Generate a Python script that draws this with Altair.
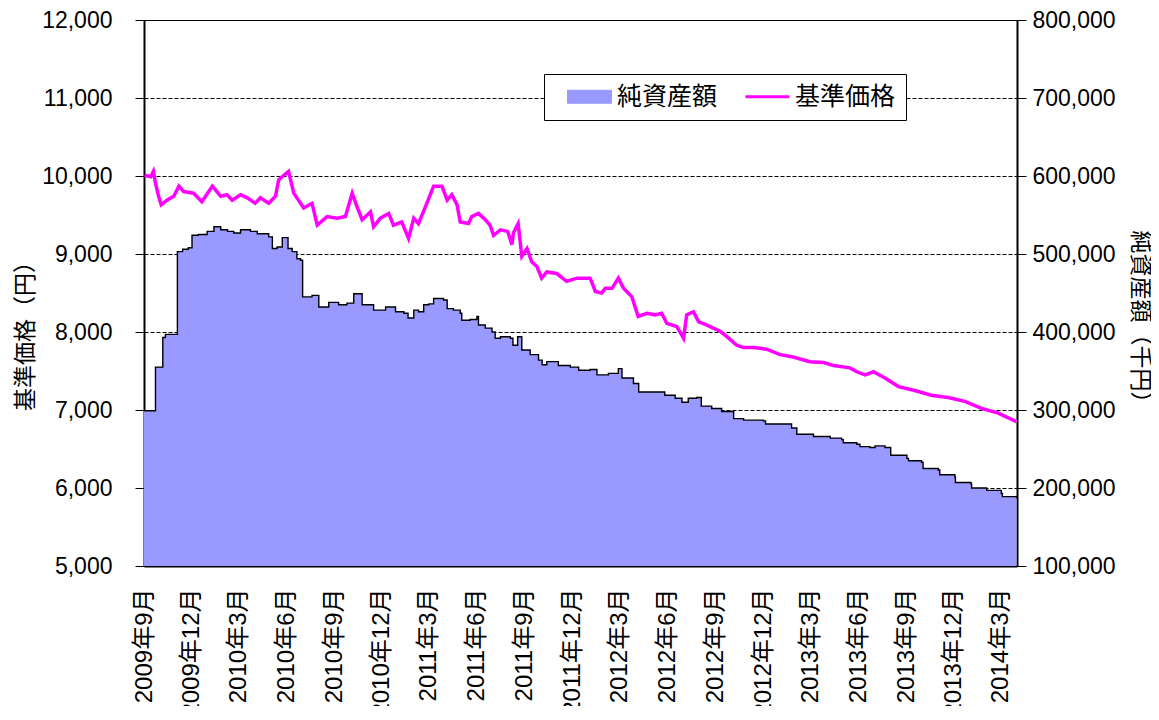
import altair as alt
import pandas as pd

# 基準価格 (円)
price_dates = [
    "2009-09-02", "2009-09-14", "2009-09-19", "2009-09-23", "2009-09-29", "2009-10-04",
    "2009-10-15", "2009-10-28", "2009-11-07", "2009-11-16", "2009-12-05", "2009-12-21",
    "2010-01-10", "2010-01-26", "2010-02-07", "2010-02-17", "2010-03-05", "2010-03-18",
    "2010-04-02", "2010-04-12", "2010-04-28", "2010-05-11", "2010-05-17", "2010-05-27",
    "2010-06-05", "2010-06-15", "2010-07-04", "2010-07-20", "2010-07-30", "2010-08-18",
    "2010-09-06", "2010-09-22", "2010-10-05", "2010-10-14", "2010-10-24", "2010-11-09",
    "2010-11-15", "2010-11-28", "2010-12-14", "2010-12-23", "2011-01-08", "2011-01-21",
    "2011-01-31", "2011-02-09", "2011-02-25", "2011-03-10", "2011-03-26", "2011-04-05",
    "2011-04-14", "2011-04-24", "2011-04-30", "2011-05-16", "2011-05-22", "2011-06-04",
    "2011-06-17", "2011-06-26", "2011-07-03", "2011-07-16", "2011-07-30", "2011-08-07",
    "2011-08-10", "2011-08-19", "2011-08-26", "2011-09-05", "2011-09-14", "2011-09-24",
    "2011-10-03", "2011-10-13", "2011-11-01", "2011-11-20", "2011-12-10", "2012-01-04",
    "2012-01-14", "2012-01-26", "2012-02-02", "2012-02-15", "2012-02-27", "2012-03-08",
    "2012-03-24", "2012-04-05", "2012-04-22", "2012-05-07", "2012-05-20", "2012-05-30",
    "2012-06-18", "2012-07-01", "2012-07-07", "2012-07-20", "2012-07-30", "2012-08-14",
    "2012-08-27", "2012-09-09", "2012-09-22", "2012-10-11", "2012-10-24", "2012-11-12",
    "2012-12-07", "2013-01-02", "2013-01-27", "2013-02-28", "2013-03-26", "2013-04-14",
    "2013-05-16", "2013-05-29", "2013-06-14", "2013-06-30", "2013-07-22", "2013-08-17",
    "2013-09-17", "2013-10-19", "2013-11-20", "2013-12-22", "2014-01-23", "2014-02-24",
    "2014-03-31",
]
price_values = [
    10010, 9990, 10060, 9910, 9740, 9630,
    9690, 9740, 9870, 9800, 9780, 9670,
    9870, 9740, 9760, 9690, 9760, 9720,
    9650, 9720, 9650, 9740, 9950, 10010,
    10060, 9780, 9590, 9650, 9370, 9480,
    9460, 9480, 9780, 9610, 9440, 9540,
    9350, 9460, 9520, 9370, 9410, 9200,
    9460, 9390, 9650, 9870, 9870, 9690,
    9760, 9630, 9410, 9390, 9480, 9520,
    9440, 9370, 9240, 9310, 9290, 9120,
    9270, 9390, 8970, 9070, 8900, 8840,
    8690, 8770, 8750, 8650, 8690, 8690,
    8520, 8500, 8560, 8560, 8690, 8560,
    8450, 8200, 8240, 8220, 8240, 8110,
    8070, 7920, 8220, 8260, 8130, 8090,
    8050, 8010, 7940, 7830, 7800, 7800,
    7780, 7710, 7680, 7620, 7610, 7570,
    7540, 7490, 7450, 7490, 7410, 7300,
    7250, 7190, 7160, 7110, 7020, 6960,
    6850,
]

# 純資産額 (千円)
nav_dates = [
    "2009-09-01", "2009-09-23", "2009-10-07", "2009-10-12", "2009-11-04", "2009-11-14",
    "2009-11-25", "2009-12-02", "2009-12-14", "2009-12-31", "2010-01-13", "2010-01-26",
    "2010-02-08", "2010-02-20", "2010-03-05", "2010-03-24", "2010-04-06", "2010-04-28",
    "2010-05-05", "2010-05-14", "2010-05-24", "2010-06-04", "2010-06-12", "2010-06-21",
    "2010-06-28", "2010-07-02", "2010-07-20", "2010-08-02", "2010-08-21", "2010-09-09",
    "2010-09-25", "2010-10-08", "2010-10-24", "2010-11-15", "2010-12-08", "2010-12-27",
    "2011-01-12", "2011-01-20", "2011-01-31", "2011-02-09", "2011-02-19", "2011-03-01",
    "2011-03-10", "2011-03-29", "2011-04-05", "2011-04-17", "2011-04-30", "2011-05-03",
    "2011-05-19", "2011-06-01", "2011-06-04", "2011-06-17", "2011-06-30", "2011-07-06",
    "2011-07-16", "2011-08-04", "2011-08-09", "2011-08-18", "2011-08-26", "2011-09-11",
    "2011-09-27", "2011-10-04", "2011-10-13", "2011-11-04", "2011-11-27", "2011-12-13",
    "2012-01-04", "2012-01-17", "2012-02-08", "2012-02-27", "2012-03-05", "2012-03-27",
    "2012-04-06", "2012-05-26", "2012-06-15", "2012-06-28", "2012-07-10", "2012-07-26",
    "2012-08-04", "2012-08-24", "2012-09-12", "2012-10-05", "2012-10-24", "2012-12-01",
    "2012-12-05", "2013-01-24", "2013-02-03", "2013-03-07", "2013-04-08", "2013-04-30",
    "2013-05-03", "2013-05-29", "2013-06-04", "2013-06-23", "2013-07-03", "2013-07-22",
    "2013-08-02", "2013-09-02", "2013-09-05", "2013-09-30", "2013-10-03", "2013-11-01",
    "2013-11-04", "2013-12-03", "2013-12-04", "2014-01-03", "2014-01-04", "2014-02-02",
    "2014-03-02", "2014-03-04", "2014-03-31",
]
nav_values = [
    299000, 355000, 393000, 397000, 503000, 506000,
    508000, 524000, 525000, 529000, 535000, 531000,
    529000, 527000, 531000, 529000, 526000, 522000,
    507000, 509000, 521000, 507000, 503000, 494000,
    492000, 445000, 447000, 432000, 438000, 435000,
    437000, 449000, 435000, 428000, 432000, 426000,
    424000, 418000, 428000, 426000, 435000, 436000,
    443000, 441000, 430000, 428000, 424000, 415000,
    416000, 420000, 409000, 405000, 400000, 392000,
    394000, 392000, 383000, 394000, 377000, 371000,
    364000, 358000, 362000, 357000, 355000, 351000,
    352000, 345000, 347000, 353000, 341000, 334000,
    323000, 319000, 315000, 310000, 315000, 316000,
    305000, 302000, 298000, 289000, 287000, 286000,
    282000, 277000, 269000, 266000, 264000, 262000,
    258000, 256000, 253000, 252000, 254000, 252000,
    242000, 238000, 235000, 233000, 225000, 223000,
    217000, 214000, 207000, 205000, 200000, 197000,
    193000, 189000, 187000,
]

tick_months = [
    (2009, 9), (2009, 12), (2010, 3), (2010, 6), (2010, 9), (2010, 12),
    (2011, 3), (2011, 6), (2011, 9), (2011, 12), (2012, 3), (2012, 6),
    (2012, 9), (2012, 12), (2013, 3), (2013, 6), (2013, 9), (2013, 12), (2014, 3),
]
price_ticks = [5000, 6000, 7000, 8000, 9000, 10000, 11000, 12000]
nav_ticks = [100000, 200000, 300000, 400000, 500000, 600000, 700000, 800000]
series_names = ["純資産額", "基準価格"]
series_colors = ["#9999FF", "#FF00FF"]

price_df = pd.DataFrame({"date": price_dates, "price": price_values, "series": series_names[1]})
nav_df = pd.DataFrame({"date": nav_dates, "nav": nav_values, "series": series_names[0]})

NUMFONT = "Liberation Sans, Noto Sans CJK JP, sans-serif"
JFONT = "Noto Sans CJK JP, sans-serif"

x_enc = alt.X(
    "date:T",
    scale=alt.Scale(
        type="utc",
        domain=[alt.DateTime(year=2009, month=9, date=1, utc=True),
                alt.DateTime(year=2014, month=4, date=1, utc=True)],
    ),
    axis=alt.Axis(
        values=[alt.DateTime(year=y, month=m, date=1, utc=True) for (y, m) in tick_months],
        labelExpr="utcFormat(datum.value, '%Y') + '年' + (utcmonth(datum.value) + 1) + '月'",
        labelAngle=270, labelAlign="right", labelBaseline="middle",
        labelFont=NUMFONT, labelFontSize=24, labelColor="black", labelPadding=22,
        labelOverlap=False, ticks=False, grid=False,
        domainColor="black", domainWidth=2, title=None,
    ),
)

color_scale = alt.Scale(domain=series_names, range=series_colors)
is_nav = "datum.value === '純資産額'"
legend = alt.Legend(
    title=None, orient="none", legendX=400, legendY=54, direction="horizontal",
    fillColor="white", strokeColor="black", padding=10,
    labelFont=JFONT, labelFontSize=25, labelColor="black", labelOffset=38,
    columnPadding=14, symbolSize=676, symbolOpacity=1,
    symbolType={"expr": is_nav + " ? 'M0.077,-0.5H3.46V0.5H0.077Z' : 'M0.077,0H3.46'"},
    symbolStrokeWidth={"expr": is_nav + " ? 1 : 3"},
)

nav_scale = alt.Scale(domain=[100000, 800000])
price_scale = alt.Scale(domain=[5000, 12000])

right_axis = alt.Axis(
    orient="right", values=nav_ticks, format=",d",
    grid=False, ticks=True, tickSize=9, tickColor="black", tickWidth=1, labelPadding=6,
    labelFont=NUMFONT, labelFontSize=23, labelColor="black",
    domainColor="black", domainWidth=2,
    title="純資産額（千円）", titleFont=JFONT, titleFontSize=23, titleFontWeight="normal",
    titleColor="black", titleAngle=90, titleAlign="center", titleBaseline="middle",
    titleX=122, titleY=302,
)
left_axis = alt.Axis(
    orient="left", values=price_ticks, format=",d",
    grid=True, gridColor="black", gridDash=[4, 2], gridWidth=1,
    ticks=True, tickSize=9, tickColor="black", tickWidth=1, labelPadding=23,
    labelFont=NUMFONT, labelFontSize=23, labelColor="black",
    domainColor="black", domainWidth=2,
    title="基準価格（円）", titleFont=JFONT, titleFontSize=23, titleFontWeight="normal",
    titleColor="black", titleAngle=270, titleAlign="center", titleBaseline="middle",
    titleX=-119, titleY=310,
)

area = alt.Chart(nav_df).mark_area(interpolate="step-after", clip=True, opacity=1).encode(
    x=x_enc,
    y=alt.Y("nav:Q", scale=nav_scale, axis=right_axis),
    color=alt.Color("series:N", scale=color_scale, legend=legend),
)
outline = alt.Chart(nav_df).mark_line(interpolate="step-after", clip=True, color="black", strokeWidth=1.4).encode(
    x=x_enc,
    y=alt.Y("nav:Q", scale=nav_scale, axis=right_axis),
)
line = alt.Chart(price_df).mark_line(clip=True, strokeWidth=3.5).encode(
    x=x_enc,
    y=alt.Y("price:Q", scale=price_scale, axis=left_axis),
    color=alt.Color("series:N", scale=color_scale, legend=legend),
)

chart = (
    alt.layer(alt.layer(area, outline), line)
    .resolve_scale(y="independent")
    .properties(
        width=873, height=546,
        padding={"left": 136, "top": 12, "right": 134, "bottom": 140},
        autosize=alt.AutoSizeParams(type="none"),
        background="white",
    )
    .configure_view(stroke="black", strokeWidth=1)
)

chart.save("out.html", embed_options={"renderer": "svg", "actions": False})
